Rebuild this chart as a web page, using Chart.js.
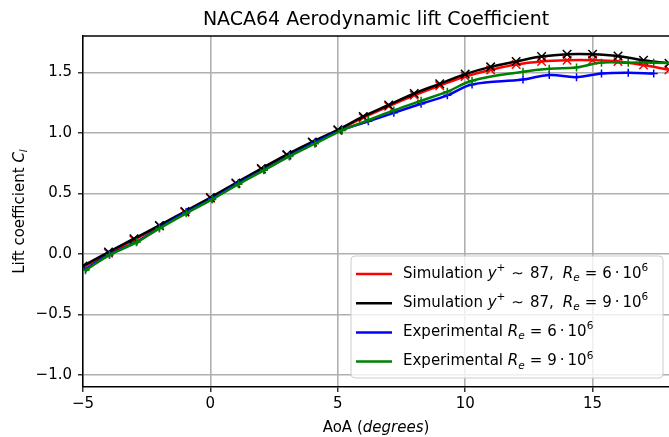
<!DOCTYPE html>
<html>
<head>
<meta charset="utf-8">
<script src="https://cdn.jsdelivr.net/npm/chart.js@4"></script>
<style>html,body{margin:0;padding:0;background:#fff}</style>
</head>
<body>
<canvas id="c" width="669" height="437"></canvas>
<script>
// simulation, one point per degree
const simAoA = [-5, -4, -3, -2, -1, 0, 1, 2, 3, 4, 5, 6, 7, 8, 9, 10, 11, 12, 13, 14, 15, 16, 17, 18];
const simRe6 = [-0.11, 0.005, 0.115, 0.23, 0.345, 0.46, 0.58, 0.70, 0.815, 0.92, 1.02, 1.125, 1.22, 1.31, 1.39, 1.465, 1.52, 1.565, 1.59, 1.60, 1.60, 1.59, 1.56, 1.52];
const simRe9 = [-0.10, 0.015, 0.125, 0.235, 0.35, 0.465, 0.585, 0.705, 0.82, 0.925, 1.025, 1.135, 1.23, 1.325, 1.405, 1.485, 1.545, 1.59, 1.63, 1.65, 1.65, 1.635, 1.60, 1.575];

// experimental data
const expAoA6 = [-4.9, -3.96, -2.9, -2.0, -0.95, 0.07, 1.1, 2.1, 3.1, 4.1, 5.17, 6.2, 7.2, 8.27, 9.3, 10.27, 12.27, 13.3, 14.37, 15.35, 16.4, 17.4];
const expRe6 = [-0.125, -0.005, 0.10, 0.215, 0.345, 0.455, 0.585, 0.695, 0.81, 0.92, 1.025, 1.095, 1.165, 1.24, 1.31, 1.40, 1.44, 1.478, 1.46, 1.49, 1.497, 1.49];
const expAoA9 = [-4.9, -3.96, -2.9, -2.0, -0.95, 0.07, 1.1, 2.1, 3.1, 4.1, 5.17, 6.2, 7.2, 8.27, 9.3, 10.27, 12.27, 13.3, 14.37, 15.35, 16.4, 17.4, 18.4];
const expRe9 = [-0.135, -0.01, 0.095, 0.21, 0.335, 0.45, 0.575, 0.69, 0.805, 0.91, 1.02, 1.105, 1.185, 1.265, 1.34, 1.43, 1.505, 1.53, 1.54, 1.58, 1.58, 1.58, 1.575];

const xTicks = [-5, 0, 5, 10, 15];
const yTicks = [-1.0, -0.5, 0.0, 0.5, 1.0, 1.5];

const FONT = '"DejaVu Sans"';
const pts = (xs, ys) => xs.map((x, i) => ({ x: x, y: ys[i] }));

function series(data, color, style, r, order) {
    return {
        data: data,
        borderColor: color,
        backgroundColor: color,
        borderWidth: 2.5,
        tension: 0.4,
        pointStyle: style,
        pointRadius: r,
        pointBorderWidth: 1.5,
        pointBorderColor: color,
        order: order,
    };
}

// text with italic / super / subscript pieces, 'g' = blank gap in px
function drawRich(ctx, parts, x, y, size, align) {
    const fontFor = s => {
        const it = s.indexOf('i') >= 0 ? 'italic ' : '';
        const sz = (s.indexOf('sup') >= 0 || s.indexOf('sub') >= 0) ? size * 0.7 : size;
        return it + sz + 'px ' + FONT;
    };
    const wOf = p => {
        if (p[1] === 'g') return p[0];
        ctx.font = fontFor(p[1]);
        return ctx.measureText(p[0]).width;
    };
    let w = 0;
    parts.forEach(p => { w += wOf(p); });
    let cx = align === 'center' ? x - w / 2 : x;
    ctx.textAlign = 'left';
    ctx.textBaseline = 'middle';
    parts.forEach(p => {
        if (p[1] !== 'g') {
            ctx.font = fontFor(p[1]);
            let dy = 0;
            if (p[1].indexOf('sup') >= 0) dy = -size * 0.38;
            if (p[1].indexOf('sub') >= 0) dy = size * 0.28;
            ctx.fillText(p[0], cx, y + dy);
        }
        cx += wOf(p);
    });
}

const reTail = n => [['R', 'i'], ['e', 'isub'], [5, 'g'], ['=', 'n'], [5, 'g'], [n, 'n'], [3, 'g'], ['\u00b7', 'n'], [3, 'g'], ['10', 'n'], ['6', 'sup']];
const simHead = [['Simulation ', 'n'], ['y', 'i'], ['+', 'sup'], [6, 'g'], ['\u223c', 'n'], [6, 'g'], ['87', 'n'], [',', 'n'], [9, 'g']];

const legendItems = [
    ['#ff0000', simHead.concat(reTail('6'))],
    ['#000000', simHead.concat(reTail('9'))],
    ['#0000ff', [['Experimental ', 'n']].concat(reTail('6'))],
    ['#008000', [['Experimental ', 'n']].concat(reTail('9'))],
];

const decor = {
    id: 'decor',
    afterDraw(chart) {
        const ctx = chart.ctx;
        const a = chart.chartArea;
        ctx.save();
        // top spine
        ctx.strokeStyle = '#000';
        ctx.lineWidth = 1.5;
        ctx.beginPath();
        ctx.moveTo(a.left, a.top);
        ctx.lineTo(a.right, a.top);
        ctx.stroke();

        ctx.fillStyle = '#000';
        ctx.font = '19px ' + FONT;
        ctx.textAlign = 'center';
        ctx.textBaseline = 'middle';
        ctx.fillText('NACA64 Aerodynamic lift Coefficient', (a.left + a.right) / 2, 20);

        drawRich(ctx, [['AoA (', 'n'], ['degrees', 'i'], [')', 'n']], (a.left + a.right) / 2, 428, 15, 'center');

        ctx.save();
        ctx.translate(20, (a.top + a.bottom) / 2);
        ctx.rotate(-Math.PI / 2);
        drawRich(ctx, [['Lift coefficient ', 'n'], ['C', 'i'], ['l', 'isub']], 0, 0, 15, 'center');
        ctx.restore();

        // legend
        const lx = 351, ly = 256, lw = 312, lh = 122;
        ctx.beginPath();
        ctx.roundRect(lx, ly, lw, lh, 4);
        ctx.fillStyle = 'rgba(255,255,255,0.8)';
        ctx.fill();
        ctx.strokeStyle = '#cccccc';
        ctx.lineWidth = 1;
        ctx.stroke();
        legendItems.forEach((it, i) => {
            const yy = 274 + i * 29.2;
            ctx.strokeStyle = it[0];
            ctx.lineWidth = 2.5;
            ctx.beginPath();
            ctx.moveTo(356, yy);
            ctx.lineTo(392, yy);
            ctx.stroke();
            ctx.fillStyle = '#000';
            drawRich(ctx, it[1], 403, yy, 15, 'left');
        });
        ctx.restore();
    }
};

const minus = v => String(v).replace('-', '\u2212');

new Chart(document.getElementById('c'), {
    type: 'line',
    data: {
        datasets: [
            series(pts(simAoA, simRe6), '#ff0000', 'crossRot', 6, 4),
            series(pts(simAoA, simRe9), '#000000', 'crossRot', 6, 3),
            series(pts(expAoA6, expRe6), '#0000ff', 'cross', 4, 2),
            series(pts(expAoA9, expRe9), '#008000', 'cross', 4, 1),
        ],
    },
    plugins: [decor],
    options: {
        responsive: false,
        animation: false,
        devicePixelRatio: 1,
        layout: { autoPadding: false, padding: { top: 36, right: 0, left: 0, bottom: 0 } },
        plugins: {
            legend: { display: false },
            tooltip: { enabled: false },
        },
        scales: {
            x: {
                type: 'linear',
                min: -5,
                max: 18,
                afterBuildTicks: s => { s.ticks = xTicks.map(v => ({ value: v })); },
                afterFit: s => { s.height = 50; s.paddingLeft = 0; s.paddingRight = 0; },
                ticks: {
                    color: '#000',
                    font: { family: 'DejaVu Sans', size: 15 },
                    padding: 3,
                    maxRotation: 0,
                    callback: v => minus(v),
                },
                grid: { color: '#b0b0b0', lineWidth: 1.6, tickLength: 5, tickColor: '#000', tickWidth: 1.2 },
                border: { color: '#000', width: 1.5 },
            },
            y: {
                min: -1.1,
                max: 1.8,
                afterBuildTicks: s => { s.ticks = yTicks.map(v => ({ value: v })); },
                afterFit: s => { s.width = 83; s.paddingTop = 0; s.paddingBottom = 0; },
                ticks: {
                    color: '#000',
                    font: { family: 'DejaVu Sans', size: 15 },
                    padding: 6,
                    callback: v => minus(v.toFixed(1)),
                },
                grid: { color: '#b0b0b0', lineWidth: 1.6, tickLength: 5, tickColor: '#000', tickWidth: 1.2 },
                border: { color: '#000', width: 1.5 },
            },
        },
    },
});
</script>
</body>
</html>
